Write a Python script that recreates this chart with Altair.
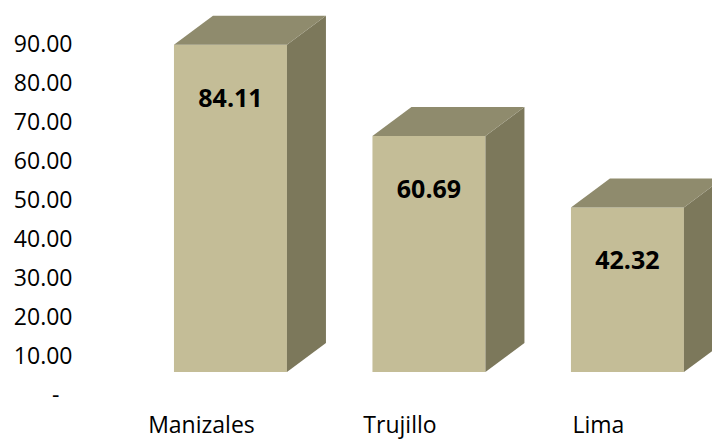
import altair as alt
import pandas as pd

categories = ["Manizales", "Trujillo", "Lima"]
values = [84.11, 60.69, 42.32]
tick_values = [0, 10, 20, 30, 40, 50, 60, 70, 80, 90]

HALF = 0.2846   # half bar width (x units)
DX = 0.1965     # depth to the right (x units)
DY = 7.455      # depth upwards (value units)

FRONT = "#C4BD97"
TOP = "#8F8B6D"
SIDE = "#7C785B"

front = pd.DataFrame({
    "cat": categories,
    "i": list(range(len(categories))),
    "v": values,
})
front["x0"] = front["i"] - HALF
front["x1"] = front["i"] + HALF

top_rows, side_rows = [], []
for i, (c, v) in enumerate(zip(categories, values)):
    top_rows.append({"cat": c, "y": v, "xa": i - HALF, "xb": i + HALF})
    top_rows.append({"cat": c, "y": v + DY, "xa": i - HALF + DX, "xb": i + HALF + DX})
    side_rows.append({"cat": c, "x": i + HALF, "ya": 0, "yb": v})
    side_rows.append({"cat": c, "x": i + HALF + DX, "ya": DY, "yb": v + DY})
top = pd.DataFrame(top_rows)
side = pd.DataFrame(side_rows)

xs = alt.Scale(domain=[-0.758, 2.426], nice=False, zero=False)
ys = alt.Scale(domain=[-17.22, 95.63], nice=False, zero=False)

yaxis = alt.Axis(
    values=tick_values,
    labelExpr="datum.value == 0 ? '-' : format(datum.value, ',.2f')",
    domain=False, ticks=False, grid=False,
    labelOffset=23,
    labelPadding={"condition": {"test": "datum.value == 0", "value": 21}, "value": 8},
    labelFont="Open Sans", labelFontSize=23, labelColor="black",
    title=None,
)

front_layer = alt.Chart(front).mark_rect(color=FRONT).encode(
    x=alt.X("x0:Q", scale=xs, axis=None),
    x2="x1:Q",
    y=alt.Y("v:Q", scale=ys, axis=yaxis),
    y2=alt.datum(0),
)

top_layer = alt.Chart(top).mark_area(color=TOP, orient="horizontal").encode(
    y=alt.Y("y:Q", scale=ys, axis=yaxis),
    x=alt.X("xa:Q", scale=xs, axis=None),
    x2="xb:Q",
    detail="cat:N",
)

side_layer = alt.Chart(side).mark_area(color=SIDE, orient="vertical").encode(
    x=alt.X("x:Q", scale=xs, axis=None),
    y=alt.Y("ya:Q", scale=ys, axis=yaxis),
    y2="yb:Q",
    detail="cat:N",
)

value_labels = alt.Chart(front).mark_text(
    font="Open Sans", fontSize=25, fontWeight="bold", color="black",
    baseline="middle", align="center", dy=54,
).encode(
    x=alt.X("i:Q", scale=xs, axis=None),
    y=alt.Y("v:Q", scale=ys, axis=yaxis),
    text=alt.Text("v:Q", format=".2f"),
)

cat_labels = alt.Chart(front).mark_text(
    font="Open Sans", fontSize=23, color="black",
    baseline="alphabetic", align="center", dx=-29,
).encode(
    x=alt.X("i:Q", scale=xs, axis=None),
    y=alt.value(433),
    text="cat:N",
)

chart = alt.layer(front_layer, side_layer, top_layer, value_labels, cat_labels).properties(
    width=632, height=439,
    padding={"left": 80, "top": 0, "right": 0, "bottom": 0},
    autosize=alt.AutoSizeParams(type="none"),
    background="white",
).configure_view(stroke=None)

chart.save("out.html", embed_options={"renderer": "svg", "actions": False})
